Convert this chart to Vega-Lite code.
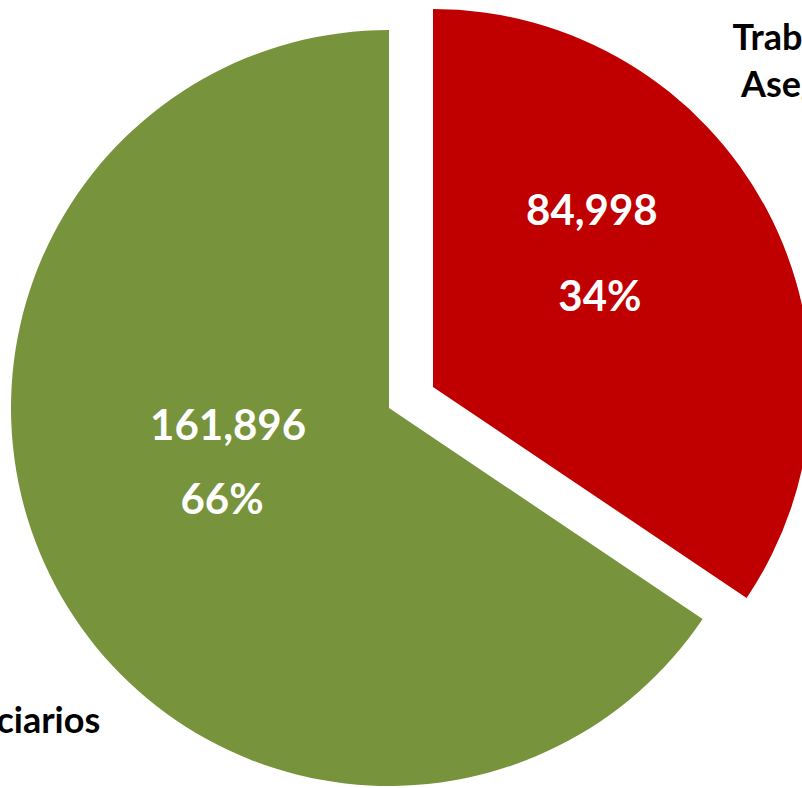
{
  "$schema": "https://vega.github.io/schema/vega-lite/v6.json",
  "width": 778,
  "height": 788,
  "padding": {"left": 0, "top": 0, "right": 24, "bottom": 0},
  "autosize": {"type": "none"},
  "background": "white",
  "view": {"stroke": null},
  "data": {
    "values": [
      {"categoria": "Trabajadores Asegurados", "valor": 84998},
      {"categoria": "Beneficiarios", "valor": 161896}
    ]
  },
  "transform": [
    {"joinaggregate": [{"op": "sum", "field": "valor", "as": "total"}]},
    {"calculate": "datum.valor / datum.total", "as": "pct"},
    {"calculate": "replace(datum.categoria, ' ', '\\n')", "as": "cat_label"}
  ],
  "encoding": {
    "theta": {"field": "valor", "type": "quantitative", "stack": true},
    "order": {"field": "valor", "type": "quantitative", "sort": "ascending"},
    "detail": {"field": "categoria", "type": "nominal"}
  },
  "layer": [
    {
      "mark": {"type": "arc", "outerRadius": 378, "yOffset": 14},
      "encoding": {
        "color": {"field": "categoria", "type": "nominal", "legend": null,
          "scale": {"domain": ["Trabajadores Asegurados", "Beneficiarios"], "range": ["#C00000", "#77933C"]}},
        "opacity": {"condition": {"test": "datum.categoria == 'Beneficiarios'", "value": 1}, "value": 0}
      }
    },
    {
      "mark": {"type": "arc", "outerRadius": 378, "xOffset": 44, "yOffset": -7},
      "encoding": {
        "color": {"field": "categoria", "type": "nominal", "legend": null,
          "scale": {"domain": ["Trabajadores Asegurados", "Beneficiarios"], "range": ["#C00000", "#77933C"]}},
        "opacity": {"condition": {"test": "datum.categoria == 'Trabajadores Asegurados'", "value": 1}, "value": 0}
      }
    },
    {
      "mark": {"type": "text", "radius": 171, "yOffset": 14, "dx": -10, "dy": -61, "font": "Lato", "fontWeight": "bold", "fontSize": 42, "baseline": "middle", "align": "center", "fill": "white"},
      "encoding": {
        "text": {"condition": {"test": "datum.categoria == 'Beneficiarios'", "field": "valor", "type": "quantitative", "format": ","}, "value": ""}
      }
    },
    {
      "mark": {"type": "text", "radius": 171, "yOffset": 14, "dx": -16, "dy": 13, "font": "Lato", "fontWeight": "bold", "fontSize": 42, "baseline": "middle", "align": "center", "fill": "white"},
      "encoding": {
        "text": {"condition": {"test": "datum.categoria == 'Beneficiarios'", "field": "pct", "type": "quantitative", "format": ".0%"}, "value": ""}
      }
    },
    {
      "mark": {"type": "text", "radius": 206, "xOffset": 44, "yOffset": -7, "dx": -23, "dy": -78, "font": "Lato", "fontWeight": "bold", "fontSize": 42, "baseline": "middle", "align": "center", "fill": "white"},
      "encoding": {
        "text": {"condition": {"test": "datum.categoria == 'Trabajadores Asegurados'", "field": "valor", "type": "quantitative", "format": ","}, "value": ""}
      }
    },
    {
      "mark": {"type": "text", "radius": 206, "xOffset": 44, "yOffset": -7, "dx": -15, "dy": 8, "font": "Lato", "fontWeight": "bold", "fontSize": 42, "baseline": "middle", "align": "center", "fill": "white"},
      "encoding": {
        "text": {"condition": {"test": "datum.categoria == 'Trabajadores Asegurados'", "field": "pct", "type": "quantitative", "format": ".0%"}, "value": ""}
      }
    },
    {
      "mark": {"type": "text", "radius": 513, "xOffset": 44, "yOffset": -7, "dx": -51, "dy": -96, "font": "Lato", "fontWeight": "bold", "fontSize": 36, "baseline": "alphabetic", "align": "center", "fill": "black", "lineBreak": "\n", "lineHeight": 47},
      "encoding": {
        "text": {"condition": {"test": "datum.categoria == 'Trabajadores Asegurados'", "field": "cat_label", "type": "nominal"}, "value": ""}
      }
    },
    {
      "mark": {"type": "text", "radius": 499, "yOffset": 14, "dx": 48, "dy": 90, "font": "Lato", "fontWeight": "bold", "fontSize": 36, "baseline": "alphabetic", "align": "center", "fill": "black", "lineBreak": "\n", "lineHeight": 47},
      "encoding": {
        "text": {"condition": {"test": "datum.categoria == 'Beneficiarios'", "field": "cat_label", "type": "nominal"}, "value": ""}
      }
    }
  ]
}
